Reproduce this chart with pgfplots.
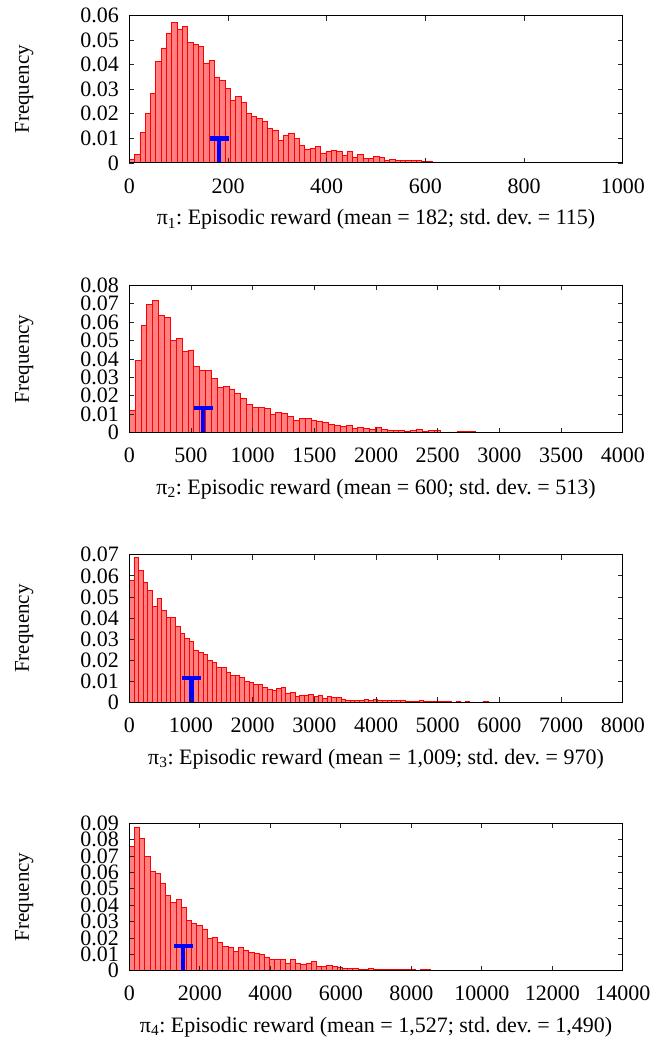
\documentclass[border=0pt]{standalone}
\usepackage{fontspec}
\setmainfont{Liberation Serif}
\usepackage{pgfplots}
\pgfplotsset{compat=1.18}
\frenchspacing

\definecolor{barfill}{RGB}{255,128,128}
\definecolor{barline}{RGB}{255,0,0}
\definecolor{meanblue}{RGB}{0,0,255}

\pgfplotsset{
  histo/.style={
    scale only axis, width=493.5pt, height=147.5pt,
    anchor=south west,
    xmin=0, ymin=0,
    tick align=inside, major tick length=5pt,
    tick style={black!85, line width=0.8pt},
    axis line style={line width=1pt},
    axis on top,
    scaled x ticks=false, scaled y ticks=false,
    tick label style={font=\fontsize{22}{22}\selectfont},
    xlabel style={font=\fontsize{22}{22}\selectfont},
    ylabel style={font=\fontsize{21}{21}\selectfont},
    /pgf/number format/assume math mode=true,
    /pgf/number format/1000 sep={},
    yticklabel style={/pgf/number format/fixed, /pgf/number format/precision=2, xshift=-7pt},
    xticklabel style={yshift=-12pt},
    ylabel={Frequency},
    ylabel style={at={(axis description cs:-0.2036,0.5)}, anchor=base},
    xlabel style={at={(axis description cs:0.5,0)}, anchor=base, yshift=-62pt},
  },
  bars/.style={ybar, bar shift=0pt, fill=barfill, draw=barline, line width=0.8pt},
  meanbar/.style={meanblue, line width=4.3pt, mark=-, mark size=9.5pt,
    mark indices={2}, mark options={line width=4.3pt}},
}

\begin{document}
\begin{tikzpicture}
\path[use as bounding box] (0pt,0pt) rectangle (651pt,-1040pt);

% ---------- policy 1 ----------
\begin{axis}[histo, at={(129.3pt,-163pt)},
  xmax=1000, xtick={0,200,400,600,800,1000},
  ymax=0.06, ytick={0,0.01,0.02,0.03,0.04,0.05,0.06},
  xlabel={π\textsubscript{1}: Episodic reward (mean = 182; std. dev. = 115)}]
\addplot[bars, bar width=10.77] coordinates {
(5.39,0.0016) (16.16,0.0035) (26.93,0.0123) (37.70,0.0201) (48.47,0.0282)
(59.24,0.0414) (70.01,0.0468) (80.78,0.0526) (91.55,0.0572) (102.32,0.0545)
(113.09,0.0555) (123.86,0.0491) (134.63,0.0484) (145.40,0.0473) (156.17,0.0407)
(166.94,0.0418) (177.71,0.0350) (188.48,0.0334) (199.25,0.0304) (210.02,0.0255)
(220.79,0.0272) (231.56,0.0245) (242.33,0.0201) (253.10,0.0188) (263.87,0.0181)
(274.64,0.0168) (285.41,0.0141) (296.18,0.0134) (306.95,0.0092) (317.72,0.0112)
(328.49,0.0119) (339.26,0.0099) (350.03,0.0072) (360.80,0.0057) (371.57,0.0059)
(382.34,0.0068) (393.11,0.0041) (403.88,0.0046) (414.65,0.0051) (425.42,0.0049)
(436.19,0.0032) (446.96,0.0046) (457.73,0.0024) (468.50,0.0034) (479.27,0.0020)
(490.04,0.0019) (500.81,0.0026) (511.58,0.0022) (522.35,0.0011) (533.12,0.0016)
(543.89,0.0010) (554.66,0.0009) (565.43,0.0009) (576.20,0.0009) (586.97,0.0010)
(597.74,0.0006) (608.51,0.0005) (619.28,0.0002) (630.05,0.0003) (640.82,0.0003)
(651.59,0.0002) (662.36,0.0003) (673.13,0.0003) (683.90,0.0002) (694.67,0.0001)
(705.44,0.0002) (716.21,0.0001) (726.98,0.0001) (737.75,0.0002) (748.52,0.0001)
(780.83,0.0001) (802.37,0.0001) (856.22,0.0001) (910.07,0.0001)
};
\addplot[meanbar] coordinates {(182,0) (182,0.01)};
\end{axis}

% ---------- policy 2 ----------
\begin{axis}[histo, at={(129.3pt,-432.7pt)},
  xmax=4000, xtick={0,500,1000,1500,2000,2500,3000,3500,4000},
  ymax=0.08, ytick={0,0.01,0.02,0.03,0.04,0.05,0.06,0.07,0.08},
  xlabel={π\textsubscript{2}: Episodic reward (mean = 600; std. dev. = 513)}]
\addplot[bars, bar width=47.5] coordinates {
(23.75,0.0121) (71.25,0.0390) (118.75,0.0583) (166.25,0.0695) (213.75,0.0718)
(261.25,0.0635) (308.75,0.0623) (356.25,0.0502) (403.75,0.0511) (451.25,0.0439)
(498.75,0.0449) (546.25,0.0361) (593.75,0.0338) (641.25,0.0338) (688.75,0.0294)
(736.25,0.0247) (783.75,0.0251) (831.25,0.0235) (878.75,0.0211) (926.25,0.0186)
(973.75,0.0153) (1021.25,0.0137) (1068.75,0.0137) (1116.25,0.0130) (1163.75,0.0101)
(1211.25,0.0110) (1258.75,0.0105) (1306.25,0.0088) (1353.75,0.0067) (1401.25,0.0078)
(1448.75,0.0078) (1496.25,0.0067) (1543.75,0.0061) (1591.25,0.0056) (1638.75,0.0047)
(1686.25,0.0040) (1733.75,0.0034) (1781.25,0.0040) (1828.75,0.0023) (1876.25,0.0029)
(1923.75,0.0023) (1971.25,0.0018) (2018.75,0.0028) (2066.25,0.0018) (2113.75,0.0014)
(2161.25,0.0014) (2208.75,0.0014) (2256.25,0.0009) (2303.75,0.0013) (2351.25,0.0016)
(2398.75,0.0009) (2446.25,0.0011) (2493.75,0.0011) (2541.25,0.0002) (2588.75,0.0004)
(2636.25,0.0004) (2683.75,0.0005) (2731.25,0.0006) (2778.75,0.0005) (2826.25,0.0002)
(2873.75,0.0002) (2921.25,0.0001) (2968.75,0.0001) (3016.25,0.0001) (3111.25,0.0002)
(3158.75,0.0002) (3301.25,0.0001) (3538.75,0.0001) (3681.25,0.0001) (3776.25,0.0001)
};
\addplot[meanbar] coordinates {(600,0) (600,0.013333)};
\end{axis}

% ---------- policy 3 ----------
\begin{axis}[histo, at={(129.3pt,-702.3pt)},
  xmax=8000, xtick={0,1000,2000,3000,4000,5000,6000,7000,8000},
  ymax=0.07, ytick={0,0.01,0.02,0.03,0.04,0.05,0.06,0.07},
  xlabel={π\textsubscript{3}: Episodic reward (mean = 1,009; std. dev. = 970)}]
\addplot[bars, bar width=74.6] coordinates {
(37.3,0.0577) (111.9,0.0689) (186.5,0.0624) (261.1,0.0571) (335.7,0.0532)
(410.3,0.0456) (484.9,0.0491) (559.5,0.0437) (634.1,0.0401) (708.7,0.0404)
(783.3,0.0358) (857.9,0.0328) (932.5,0.0304) (1007.1,0.0290) (1081.7,0.0247)
(1156.3,0.0238) (1230.9,0.0228) (1305.5,0.0198) (1380.1,0.0189) (1454.7,0.0166)
(1529.3,0.0166) (1603.9,0.0144) (1678.5,0.0128) (1753.1,0.0127) (1827.7,0.0117)
(1902.3,0.0098) (1976.9,0.0094) (2051.5,0.0086) (2126.1,0.0086) (2200.7,0.0070)
(2275.3,0.0063) (2349.9,0.0057) (2424.5,0.0065) (2499.1,0.0070) (2573.7,0.0044)
(2648.3,0.0046) (2722.9,0.0029) (2797.5,0.0035) (2872.1,0.0035) (2946.7,0.0038)
(3021.3,0.0027) (3095.9,0.0032) (3170.5,0.0017) (3245.1,0.0027) (3319.7,0.0021)
(3394.3,0.0024) (3468.9,0.0016) (3543.5,0.0011) (3618.1,0.0010) (3692.7,0.0010)
(3767.3,0.0008) (3841.9,0.0013) (3916.5,0.0010) (3991.1,0.0013) (4065.7,0.0008)
(4140.3,0.0008) (4214.9,0.0008) (4289.5,0.0010) (4364.1,0.0007) (4438.7,0.0007)
(4513.3,0.0003) (4587.9,0.0003) (4662.5,0.0003) (4737.1,0.0008) (4811.7,0.0004)
(4886.3,0.0006) (4960.9,0.0005) (5035.5,0.0002) (5110.1,0.0003) (5184.7,0.0003)
(5333.9,0.0002) (5483.1,0.0002) (5632.3,0.0001) (5781.5,0.0002) (5930.7,0.0001)
(6303.7,0.0001) (6676.7,0.0001) (7049.7,0.0001) (7348.1,0.0001)
};
\addplot[meanbar] coordinates {(1009,0) (1009,0.011667)};
\end{axis}

% ---------- policy 4 ----------
\begin{axis}[histo, at={(129.3pt,-970.7pt)},
  xmax=14000, xtick={0,2000,4000,6000,8000,10000,12000,14000},
  ymax=0.09, ytick={0,0.01,0.02,0.03,0.04,0.05,0.06,0.07,0.08,0.09},
  xlabel={π\textsubscript{4}: Episodic reward (mean = 1,527; std. dev. = 1,490)}]
\addplot[bars, bar width=147.4] coordinates {
(73.7,0.0758) (221.1,0.0877) (368.5,0.0809) (515.9,0.0698) (663.3,0.0606)
(810.7,0.0593) (958.1,0.0532) (1105.5,0.0458) (1252.9,0.0415) (1400.3,0.0433)
(1547.7,0.0384) (1695.1,0.0308) (1842.5,0.0287) (1989.9,0.0275) (2137.3,0.0255)
(2284.7,0.0197) (2432.1,0.0203) (2579.5,0.0175) (2726.9,0.0148) (2874.3,0.0144)
(3021.7,0.0115) (3169.1,0.0142) (3316.5,0.0123) (3463.9,0.0109) (3611.3,0.0103)
(3758.7,0.0101) (3906.1,0.0084) (4053.5,0.0070) (4200.9,0.0066) (4348.3,0.0070)
(4495.7,0.0045) (4643.1,0.0066) (4790.5,0.0043) (4937.9,0.0041) (5085.3,0.0043)
(5232.7,0.0057) (5380.1,0.0025) (5527.5,0.0027) (5674.9,0.0031) (5822.3,0.0025)
(5969.7,0.0023) (6117.1,0.0014) (6264.5,0.0012) (6411.9,0.0012) (6559.3,0.0008)
(6706.7,0.0006) (6854.1,0.0014) (7001.5,0.0010) (7148.9,0.0006) (7296.3,0.0006)
(7443.7,0.0006) (7591.1,0.0006) (7738.5,0.0005) (7885.9,0.0006) (8033.3,0.0005)
(8180.7,0.0003) (8328.1,0.0005) (8475.5,0.0005) (8622.9,0.0004) (8770.3,0.0003)
(8917.7,0.0002) (9065.1,0.0002) (9359.9,0.0001) (9802.1,0.0002) (9949.5,0.0002)
(10539.1,0.0001) (11423.5,0.0002) (11570.9,0.0001) (12160.9,0.0001)
};
\addplot[meanbar] coordinates {(1527,0) (1527,0.015)};
\end{axis}
\end{tikzpicture}
\end{document}
